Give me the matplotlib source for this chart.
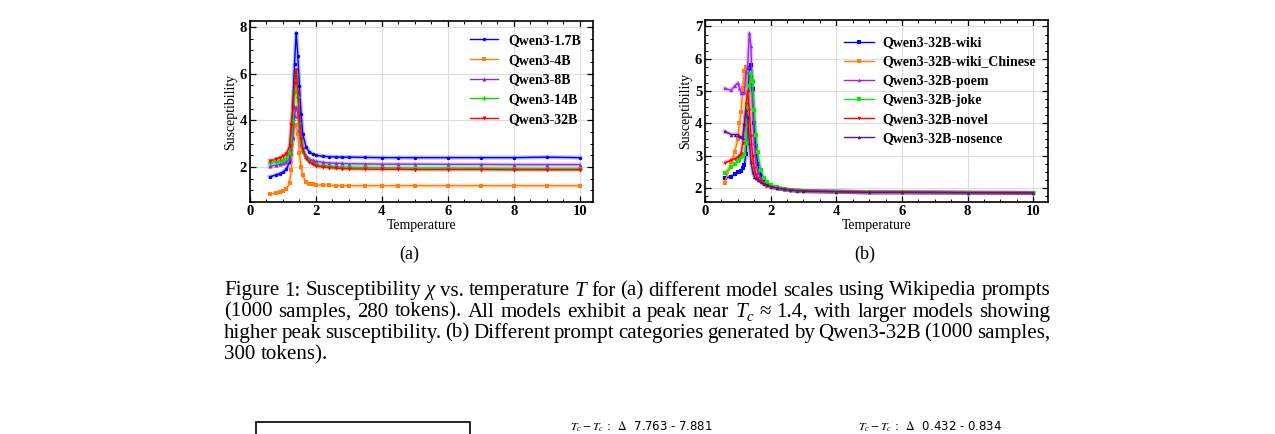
import matplotlib
matplotlib.use("Agg")
import matplotlib.pyplot as plt
from matplotlib.patches import Rectangle
from matplotlib.ticker import MultipleLocator

plt.rcParams['font.family'] = ['Liberation Serif', 'DejaVu Serif']
plt.rcParams['mathtext.fontset'] = 'stix'

# ---- data, panel (a): model scales ----
temps_a = [0.6, 0.8, 0.9, 1.0, 1.1, 1.2, 1.25, 1.3, 1.35, 1.4, 1.45, 1.5, 1.55, 1.6,
           1.7, 1.8, 1.9, 2.0, 2.2, 2.4, 2.6, 2.8, 3.0, 3.5, 4, 4.5, 5, 6, 7, 8, 9, 10]
qwen_1_7b = [1.58, 1.66, 1.72, 1.78, 1.9, 2.2, 3.0, 4.6, 6.4, 7.75, 6.75, 5.45, 4.25, 3.4,
             2.85, 2.65, 2.55, 2.5, 2.46, 2.44, 2.43, 2.42, 2.42, 2.41, 2.4, 2.4, 2.4, 2.4, 2.4, 2.4, 2.42, 2.4]
qwen_4b = [0.84, 0.88, 0.91, 0.96, 1.06, 1.3, 1.85, 3.2, 3.75, 3.8, 3.4, 2.6, 2.0, 1.64,
           1.35, 1.28, 1.25, 1.23, 1.23, 1.21, 1.2, 1.2, 1.2, 1.2, 1.2, 1.2, 1.2, 1.2, 1.2, 1.2, 1.2, 1.2]
qwen_8b = [2.03, 2.08, 2.12, 2.15, 2.22, 2.35, 2.6, 3.3, 4.2, 4.55, 4.3, 3.6, 3.0, 2.7,
           2.45, 2.35, 2.28, 2.24, 2.2, 2.17, 2.16, 2.15, 2.14, 2.13, 2.12, 2.12, 2.12, 2.11, 2.11, 2.1, 2.1, 2.1]
qwen_14b = [2.17, 2.22, 2.26, 2.3, 2.38, 2.6, 3.0, 4.0, 5.2, 6.0, 5.0, 3.9, 3.1, 2.7,
            2.4, 2.25, 2.15, 2.1, 2.06, 2.04, 2.02, 2.0, 1.99, 1.98, 1.97, 1.96, 1.95, 1.95, 1.94, 1.93, 1.92, 1.92]
qwen_32b = [2.27, 2.32, 2.4, 2.45, 2.55, 2.9, 3.8, 4.5, 5.6, 6.15, 5.2, 4.1, 3.2, 2.75,
            2.4, 2.22, 2.12, 2.05, 2.0, 1.97, 1.95, 1.93, 1.92, 1.91, 1.9, 1.9, 1.89, 1.89, 1.89, 1.88, 1.88, 1.88]

# ---- data, panel (b): prompt categories (Qwen3-32B) ----
temps_b = [0.6, 0.8, 0.9, 1.0, 1.05, 1.1, 1.15, 1.2, 1.25, 1.3, 1.35, 1.4, 1.45, 1.5, 1.55,
           1.6, 1.7, 1.8, 1.9, 2.0, 2.2, 2.4, 2.6, 2.8, 3.0, 4, 5, 6, 8, 10]
wiki = [2.3, 2.35, 2.42, 2.48, 2.5, 2.52, 2.6, 2.72, 3.05, 4.2, 5.7, 5.8, 5.05, 4.0, 3.3,
        2.75, 2.4, 2.2, 2.1, 2.04, 1.98, 1.95, 1.93, 1.91, 1.9, 1.88, 1.86, 1.86, 1.84, 1.84]
wiki_chinese = [2.15, 2.8, 3.1, 3.5, 4.0, 4.35, 5.1, 5.62, 5.75, 4.9, 3.9, 3.2, 2.8, 2.55, 2.4,
                2.3, 2.2, 2.12, 2.07, 2.03, 1.98, 1.95, 1.93, 1.91, 1.9, 1.88, 1.86, 1.85, 1.84, 1.83]
poem = [5.08, 5.02, 5.15, 5.25, 5.1, 4.95, 4.95, 4.97, 5.6, 5.75, 6.8, 6.4, 4.5, 3.4, 2.8,
        2.5, 2.3, 2.18, 2.1, 2.05, 1.99, 1.96, 1.93, 1.92, 1.9, 1.88, 1.86, 1.86, 1.85, 1.84]
joke = [2.45, 2.65, 2.75, 2.82, 2.85, 2.95, 3.0, 3.05, 3.4, 4.5, 5.15, 5.55, 5.3, 4.4, 3.65,
        3.1, 2.55, 2.3, 2.18, 2.1, 2.02, 1.96, 1.93, 1.91, 1.9, 1.88, 1.86, 1.86, 1.84, 1.83]
novel = [2.78, 2.85, 2.9, 2.95, 3.0, 3.05, 3.4, 3.9, 4.6, 5.0, 4.4, 3.6, 3.0, 2.6, 2.4,
         2.3, 2.2, 2.12, 2.08, 2.04, 1.99, 1.96, 1.93, 1.91, 1.9, 1.88, 1.86, 1.86, 1.85, 1.84]
nosence = [3.75, 3.65, 3.65, 3.65, 3.6, 3.58, 3.55, 4.0, 4.4, 4.2, 3.4, 2.8, 2.5, 2.35, 2.3,
           2.25, 2.18, 2.12, 2.08, 2.04, 1.99, 1.96, 1.93, 1.91, 1.9, 1.88, 1.86, 1.86, 1.85, 1.84]

series_a = [("Qwen3-1.7B", qwen_1_7b, "#0000ff", "o", 2.5),
            ("Qwen3-4B", qwen_4b, "#ff7f0e", "s", 3.2),
            ("Qwen3-8B", qwen_8b, "#8a2be2", "^", 3),
            ("Qwen3-14B", qwen_14b, "#00dd00", "P", 3.2),
            ("Qwen3-32B", qwen_32b, "#ff0000", "v", 3)]
series_b = [("Qwen3-32B-wiki", wiki, "#0000ff", "s", 2.5),
            ("Qwen3-32B-wiki_Chinese", wiki_chinese, "#ff7f0e", "s", 3.2),
            ("Qwen3-32B-poem", poem, "#a020f0", "^", 2.5),
            ("Qwen3-32B-joke", joke, "#00ee00", "s", 3),
            ("Qwen3-32B-novel", novel, "#ff0000", "v", 2.5),
            ("Qwen3-32B-nosence", nosence, "#5a0fa0", "^", 2.5)]

# caption, split into runs: 'rm' roman words, 'it' italic symbol, 'sub' italic subscript
caption = [
    [("Figure 1: Susceptibility", 'rm'), ("χ", 'it'), ("vs. temperature", 'rm'), ("T", 'it'),
     ("for (a) different model scales using Wikipedia prompts", 'rm')],
    [("(1000 samples, 280 tokens). All models exhibit a peak near", 'rm'), ("T", 'it'), ("c", 'sub'),
     ("≈ 1.4, with larger models showing", 'rm')],
    [("higher peak susceptibility. (b) Different prompt categories generated by Qwen3-32B (1000 samples,", 'rm')],
    [("300 tokens).", 'rm')],
]

W, H = 1275, 434
fig = plt.figure(figsize=(W / 100, H / 100), dpi=100)
renderer = fig.canvas.get_renderer()


def px_axes(x0, y0, x1, y1):
    return fig.add_axes([x0 / W, 1 - y1 / H, (x1 - x0) / W, (y1 - y0) / H])


def style(ax, xlim, ylim, ymajor):
    ax.set_xlim(*xlim)
    ax.set_ylim(*ylim)
    ax.xaxis.set_major_locator(MultipleLocator(2))
    ax.xaxis.set_minor_locator(MultipleLocator(0.5))
    ax.yaxis.set_major_locator(MultipleLocator(ymajor))
    ax.yaxis.set_minor_locator(MultipleLocator(ymajor / 4))
    ax.grid(True, which='major', color='#dcdcdc', lw=0.8)
    ax.set_axisbelow(True)
    ax.tick_params(which='both', direction='in', top=True, right=True, labelsize=10.5, pad=2)
    ax.tick_params(which='major', length=4, width=0.9)
    ax.tick_params(which='minor', length=2, width=0.7)
    for lab in ax.get_xticklabels() + ax.get_yticklabels():
        lab.set_fontweight('bold')
    for s in ax.spines.values():
        s.set_linewidth(1.2)
    ax.set_xlabel("Temperature", fontsize=10, labelpad=1)
    ax.set_ylabel("Susceptibility", fontsize=10, labelpad=2)


def draw(ax, temps, series):
    for name, vals, col, mk, ms in series:
        ax.plot(temps, vals, color=col, lw=3, alpha=0.25, zorder=2)
        ax.plot(temps, vals, color=col, lw=1.0, marker=mk, ms=ms, mew=0, label=name, zorder=3)


ax_a = px_axes(250, 21, 593, 202)
draw(ax_a, temps_a, series_a)
style(ax_a, (0, 10.4), (0.5, 8.25), 2)
ax_a.legend(loc='upper left', bbox_to_anchor=(0.641, 0.928), frameon=False,
            prop={'weight': 'bold', 'size': 10}, handlelength=2.0, handletextpad=0.8,
            labelspacing=0.48, borderpad=0, borderaxespad=0)

ax_b = px_axes(705, 20, 1048, 202)
draw(ax_b, temps_b, series_b)
style(ax_b, (0, 10.45), (1.56, 7.2), 1)
ax_b.legend(loc='upper left', bbox_to_anchor=(0.405, 0.91), frameon=False,
            prop={'weight': 'bold', 'size': 10}, handlelength=2.2, handletextpad=0.6,
            labelspacing=0.44, borderpad=0, borderaxespad=0)

# sub captions
fig.text(409 / W, 1 - 254 / H, "(a)", ha='center', va='center', fontsize=13)
fig.text(865 / W, 1 - 254 / H, "(b)", ha='center', va='center', fontsize=13)

# figure caption, justified word by word like the LaTeX original
CAP_SIZE = 15.1
CAP_LEFT, CAP_RIGHT = 224, 1050
run_kw = {'rm': dict(fontsize=CAP_SIZE),
          'it': dict(fontsize=CAP_SIZE, style='italic'),
          'sub': dict(fontsize=CAP_SIZE * 0.7, style='italic')}


def text_width(s, kind):
    t = fig.text(0, 0, s, **run_kw[kind])
    w = t.get_window_extent(renderer).width
    t.remove()
    return w


space_w = text_width("x x", 'rm') - text_width("xx", 'rm')

for i, runs in enumerate(caption):
    baseline = 295.5 + 21.2 * i
    words = []
    for s, kind in runs:
        if kind == 'rm':
            words += [(w, kind) for w in s.split()]
        else:
            words.append((s, kind))
    widths = [text_width(w, k) for w, k in words]
    n_gaps = sum(1 for w, k in words if k != 'sub') - 1
    last_line = i == len(caption) - 1
    gap = space_w if last_line else (CAP_RIGHT - CAP_LEFT - sum(widths)) / max(n_gaps, 1)
    x = CAP_LEFT
    for j, ((w, k), wd) in enumerate(zip(words, widths)):
        if j > 0 and k != 'sub':
            x += gap
        dy = 4 if k == 'sub' else 0
        fig.text(x / W, 1 - (baseline + dy) / H, w, ha='left', va='baseline', **run_kw[k])
        x += wd

# top of the next figure, cut off by the page crop
fig.patches.append(Rectangle((256 / W, -0.1), (470 - 256) / W, (434 - 422) / H + 0.1,
                             transform=fig.transFigure, fill=False, lw=1.2, ec='black'))
fig.text(570 / W, 1 - 433.5 / H, r"$T_c - T_c$ :  $\Delta$  7.763 - 7.881", ha='left', va='bottom',
         fontsize=8.5, family='DejaVu Sans')
fig.text(858 / W, 1 - 433.5 / H, r"$T_c - T_c$ :  $\Delta$  0.432 - 0.834", ha='left', va='bottom',
         fontsize=8.5, family='DejaVu Sans')

fig.savefig("out.png", dpi=100)
